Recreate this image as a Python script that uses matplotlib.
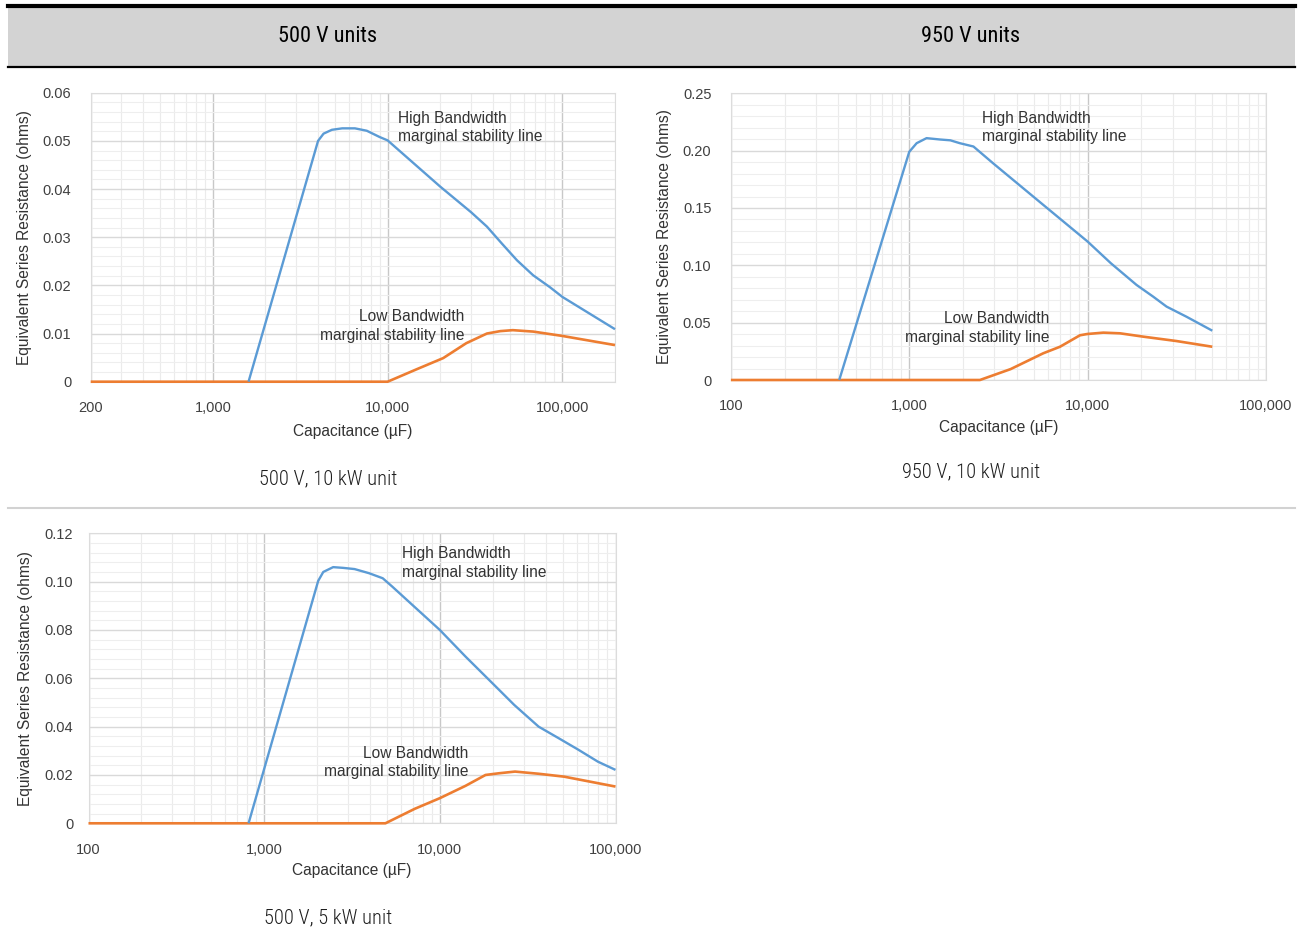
import numpy as np
import matplotlib
matplotlib.use("Agg")
import matplotlib.pyplot as plt
from matplotlib import font_manager
from matplotlib.ticker import FixedLocator, MultipleLocator, FuncFormatter, NullFormatter
from matplotlib.patches import Rectangle
from matplotlib.lines import Line2D

# ---- data ------------------------------------------------------------------
# 500 V, 10 kW unit
hb1_c = [1600, 4000, 4300, 4800, 5500, 6500, 7600, 9000, 10000, 20000, 30000, 37000, 45000, 55000, 68000, 85000, 100000, 200000]
hb1_r = [0.0, 0.0500, 0.0515, 0.0523, 0.0526, 0.0526, 0.0521, 0.0508, 0.0501, 0.0405, 0.0352, 0.0322, 0.0287, 0.0252, 0.0221, 0.0196, 0.0176, 0.0109]
lb1_c = [200, 10000, 14700, 20800, 28200, 37000, 44100, 52000, 68200, 100000, 200000]
lb1_r = [0.0, 0.0, 0.0026, 0.0049, 0.0080, 0.0100, 0.0105, 0.0107, 0.0104, 0.0095, 0.0076]

# 950 V, 10 kW unit
hb2_c = [405, 1000, 1100, 1250, 1490, 1700, 1920, 2290, 2950, 5640, 10000, 13500, 18800, 23300, 27700, 35800, 50000]
hb2_r = [0.0, 0.199, 0.2065, 0.2109, 0.2097, 0.2090, 0.2065, 0.2036, 0.189, 0.1527, 0.1207, 0.1018, 0.0829, 0.0727, 0.0640, 0.0552, 0.0430]
lb2_c = [100, 2490, 3700, 5640, 7000, 9060, 9950, 12250, 15200, 20500, 31400, 50000]
lb2_r = [0.0, 0.0, 0.0095, 0.0233, 0.0290, 0.0390, 0.0401, 0.0413, 0.0407, 0.0378, 0.0340, 0.0290]

# 500 V, 5 kW unit
hb3_c = [815, 2030, 2170, 2470, 2810, 3270, 3950, 4730, 5350, 10000, 14000, 19900, 26500, 36500, 47500, 61600, 79400, 100000]
hb3_r = [0.0, 0.1003, 0.1040, 0.1060, 0.1057, 0.1052, 0.1035, 0.1014, 0.0980, 0.0800, 0.0690, 0.0580, 0.0490, 0.0400, 0.0352, 0.0304, 0.0255, 0.0221]
lb3_c = [100, 4900, 7200, 10000, 14000, 18200, 21700, 26800, 36500, 51000, 100000]
lb3_r = [0.0, 0.0, 0.0060, 0.0104, 0.0155, 0.0200, 0.0207, 0.0214, 0.0205, 0.0193, 0.0152]

headers = ["500 V units", "950 V units"]
captions = ["500 V, 10 kW unit", "950 V, 10 kW unit", "500 V, 5 kW unit"]
x_ticks = [[200, 1000, 10000, 100000], [100, 1000, 10000, 100000], [100, 1000, 10000, 100000]]
x_lims = [(200, 200000), (100, 100000), (100, 100000)]
y_maxes = [0.06, 0.25, 0.12]
y_steps = [0.01, 0.05, 0.02]

BLUE = "#5b9bd5"
ORANGE = "#ed7d31"
W, H = 1302, 942

names = {f.name for f in font_manager.fontManager.ttflist}
COND = next((n for n in ["Roboto Condensed", "Liberation Sans Narrow", "Roboto"] if n in names), "DejaVu Sans")
CHART_FONT = "Liberation Sans" if "Liberation Sans" in names else "DejaVu Sans"


def px_rect(x0, y0, x1, y1):
    return [x0 / W, 1 - y1 / H, (x1 - x0) / W, (y1 - y0) / H]


def fx(x):
    return x / W


def fy(y):
    return 1 - y / H


fig = plt.figure(figsize=(W / 100, H / 100), dpi=100)

# ---- table-like frame --------------------------------------------------------
fig.patches.append(Rectangle((fx(8), fy(66)), fx(1295) - fx(8), fy(8) - fy(66),
                             transform=fig.transFigure, facecolor="#d3d3d3", edgecolor="none"))
fig.lines.append(Line2D([fx(8), fx(1295)], [fy(6), fy(6)], transform=fig.transFigure, color="black", lw=3.0))
fig.lines.append(Line2D([fx(8), fx(1295)], [fy(67), fy(67)], transform=fig.transFigure, color="black", lw=1.6))
fig.lines.append(Line2D([fx(8), fx(1295)], [fy(507.5), fy(507.5)], transform=fig.transFigure, color="#d2d2d2", lw=1.5))
for cx, txt in zip([328, 971], headers):
    fig.text(fx(cx), fy(37), txt, ha="center", va="center", fontsize=16, family=COND,
             fontstretch="condensed", color="black")
for (cx, cy), txt in zip([(328, 479), (971, 472), (328, 918)], captions):
    fig.text(fx(cx), fy(cy), txt, ha="center", va="center", fontsize=14.8, family=COND,
             fontstretch="condensed", fontweight="light", color="#1e1e1e")

# ---- charts --------------------------------------------------------------------
boxes = [(90.7, 92.7, 615, 381.7), (730.9, 93.3, 1266, 380), (88.5, 533.3, 615.5, 823.3)]
series = [(hb1_c, hb1_r, lb1_c, lb1_r), (hb2_c, hb2_r, lb2_c, lb2_r), (hb3_c, hb3_r, lb3_c, lb3_r)]
ylab_x = [-0.1125, -0.110, -0.105]
xlab_y = [-0.146, -0.139, -0.137]
hi_pos = [(0.586, 0.938), (0.469, 0.940), (0.594, 0.955)]
lo_pos = [(0.712, 0.250), (0.596, 0.240), (0.721, 0.268)]

for i, box in enumerate(boxes):
    ax = fig.add_axes(px_rect(*box))
    hc, hr, lc, lr = series[i]
    ax.set_xscale("log")
    ax.set_xlim(*x_lims[i])
    ax.set_ylim(0, y_maxes[i])

    ax.xaxis.set_major_locator(FixedLocator(x_ticks[i]))
    ax.xaxis.set_major_formatter(FuncFormatter(lambda v, p: f"{int(round(v)):,}"))
    lo, hi = x_lims[i]
    minors = [m * 10 ** e for e in range(2, 6) for m in range(2, 10) if lo <= m * 10 ** e <= hi]
    ax.xaxis.set_minor_locator(FixedLocator(minors))
    ax.xaxis.set_minor_formatter(NullFormatter())
    ax.yaxis.set_major_locator(MultipleLocator(y_steps[i]))
    ax.yaxis.set_minor_locator(MultipleLocator(y_steps[i] / 5))
    ax.yaxis.set_major_formatter(FuncFormatter(lambda v, p: "0" if abs(v) < 1e-12 else f"{v:.2f}"))

    ax.grid(which="minor", axis="x", color="#ebebeb", lw=0.8)
    ax.grid(which="major", axis="x", color="#c8c8c8", lw=1.0)
    ax.grid(which="minor", axis="y", color="#eeeeee", lw=0.8)
    ax.grid(which="major", axis="y", color="#d9d9d9", lw=1.0)
    ax.set_axisbelow(True)
    for s in ax.spines.values():
        s.set_color("#dcdcdc")
        s.set_linewidth(0.8)

    ax.tick_params(which="both", length=0)
    ax.tick_params(axis="x", pad=14, labelsize=10.5, labelcolor="#404040")
    ax.tick_params(axis="y", pad=14 if i < 2 else 11, labelsize=10.5, labelcolor="#404040")
    for lab in ax.get_xticklabels() + ax.get_yticklabels():
        lab.set_family(CHART_FONT)

    ax.plot(lc, lr, color=ORANGE, lw=1.9, solid_capstyle="butt", solid_joinstyle="round", clip_on=False, zorder=3)
    ax.plot(hc, hr, color=BLUE, lw=1.7, solid_capstyle="butt", solid_joinstyle="round", clip_on=False, zorder=4)

    ax.set_xlabel("Capacitance (µF)", fontsize=11.2, family=CHART_FONT, color="#333333")
    ax.xaxis.set_label_coords(0.5, xlab_y[i])
    ax.set_ylabel("Equivalent Series Resistance (ohms)", fontsize=11.2, family=CHART_FONT, color="#333333")
    ax.yaxis.set_label_coords(ylab_x[i], 0.5)

    ax.text(*hi_pos[i], "High Bandwidth\nmarginal stability line", transform=ax.transAxes,
            ha="left", va="top", fontsize=11.2, family=CHART_FONT, color="#333333", linespacing=1.28)
    ax.text(*lo_pos[i], "Low Bandwidth\nmarginal stability line", transform=ax.transAxes,
            ha="right", va="top", fontsize=11.2, family=CHART_FONT, color="#333333", linespacing=1.28,
            multialignment="right")

fig.savefig("out.png", dpi=100)
